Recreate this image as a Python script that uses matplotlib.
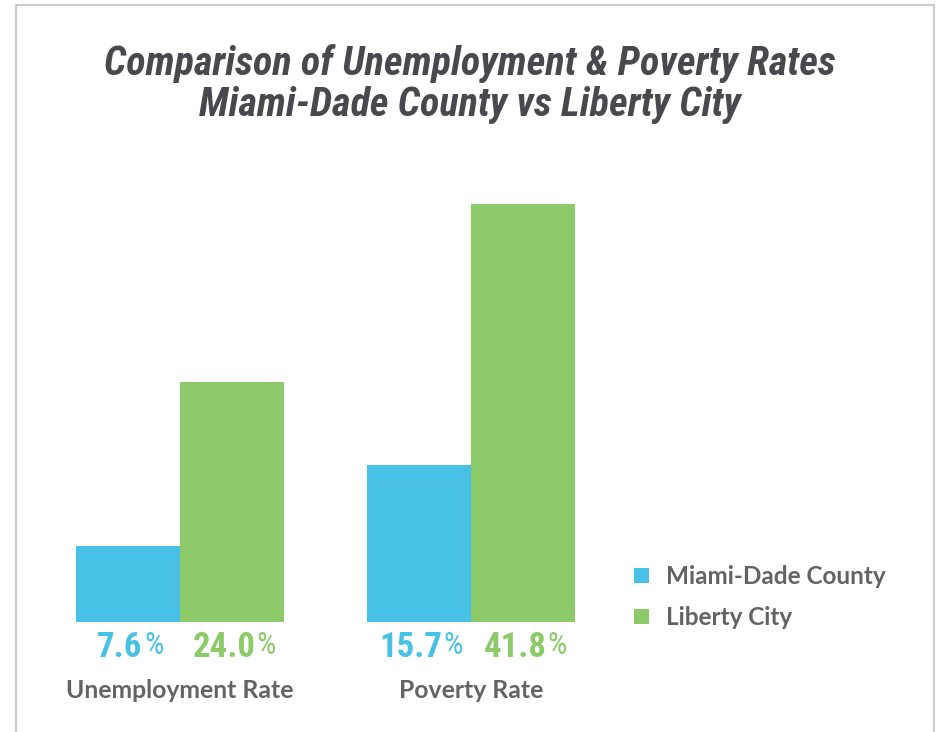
import os
import matplotlib
matplotlib.use('Agg')
import matplotlib.pyplot as plt
from matplotlib import font_manager as fm
from matplotlib.patches import Rectangle

# data
#
groups = ['Unemployment Rate', 'Poverty Rate']
series = ['Miami-Dade County', 'Liberty City']
miami = [7.6, 15.7]
liberty = [24.0, 41.8]
colors = ['#47c1e5', '#8dcb6a']
title = 'Comparison of Unemployment & Poverty Rates\nMiami-Dade County vs Liberty City'


# fonts: look for a narrow / condensed face, else fall back
#
def find_font(italic, bold):
    words = ['robotocondensed', 'sansnarrow', 'opensanscondensed',
             'notosanscondensed', 'dejavusanscondensed']
    for w in words:
        for f in fm.fontManager.ttflist:
            base = os.path.basename(f.fname).lower().replace('-', '').replace('_', '')
            if w not in base:
                continue
            is_it = 'italic' in base or 'oblique' in base
            is_b = 'bold' in base and 'semibold' not in base and 'extrabold' not in base
            if is_it == italic and is_b == bold:
                return f.fname
    return None


def font(size, italic=False, bold=False):
    path = find_font(italic, bold)
    if path:
        return fm.FontProperties(fname=path, size=size)
    return fm.FontProperties(family='Open Sans', size=size * 0.85,
                             style='italic' if italic else 'normal',
                             weight='bold' if bold else 'normal')


# plot
#
W, H = 939, 732
fig = plt.figure(figsize=(W / 100, H / 100), dpi=100)
ax = fig.add_axes([0, 0, 1, 1])

# pixel layout -> data units: group centre 180 px / 471 px, baseline 622 px, 10 px per %
px_per_group = 291
ax.set_xlim((0 - 180) / px_per_group, (W - 180) / px_per_group)
ax.set_ylim((622 - H) / 10, 622 / 10)
ax.axis('off')

bw = 104 / px_per_group
x = [0, 1]
b1 = ax.bar([i - bw / 2 for i in x], miami, bw, color=colors[0], label=series[0])
b2 = ax.bar([i + bw / 2 for i in x], liberty, bw, color=colors[1], label=series[1])

# value labels below the bars
#
num_fp = font(25, bold=True)
pct_fp = font(22)
for vals, off, c in [(miami, -bw / 2, colors[0]), (liberty, bw / 2, colors[1])]:
    for i, v in zip(x, vals):
        t = ax.text(i + off - 0.028, -3.5, f'{v:.1f}', color=c, ha='center',
                    va='baseline', fontproperties=num_fp)
        ax.annotate('%', xy=(1, 1), xycoords=t, xytext=(1, 0),
                    textcoords='offset points', ha='left', va='top',
                    color=c, fontproperties=pct_fp)

# category labels
#
for i, g in zip(x, groups):
    ax.text(i, -7.6, g, ha='center', va='baseline', color='#636366',
            fontsize=17.8, family='Lato', fontweight='bold')

# legend
#
ax.legend(handles=[b1, b2], loc='upper left', bbox_to_anchor=(634 / W, 1 - 565 / H),
          bbox_transform=fig.transFigure, frameon=False,
          prop=fm.FontProperties(family='Lato', weight='bold', size=17.5),
          labelcolor='#636366', handlelength=0.62, handleheight=0.62,
          handletextpad=0.68, labelspacing=0.74, borderpad=0, borderaxespad=0)

# title
#
fig.text(0.5, 1 - 84 / H, title, ha='center', va='center', color='#48484e',
         fontproperties=font(29, italic=True, bold=True), linespacing=1.12)

# frame
#
fig.patches.append(Rectangle((16 / W, -0.05), (934 - 16) / W, 1.05 - 5 / H,
                             transform=fig.transFigure, fill=False,
                             edgecolor='#cccccc', linewidth=1.5))

# output
#
plt.savefig('out.png', dpi=100)
